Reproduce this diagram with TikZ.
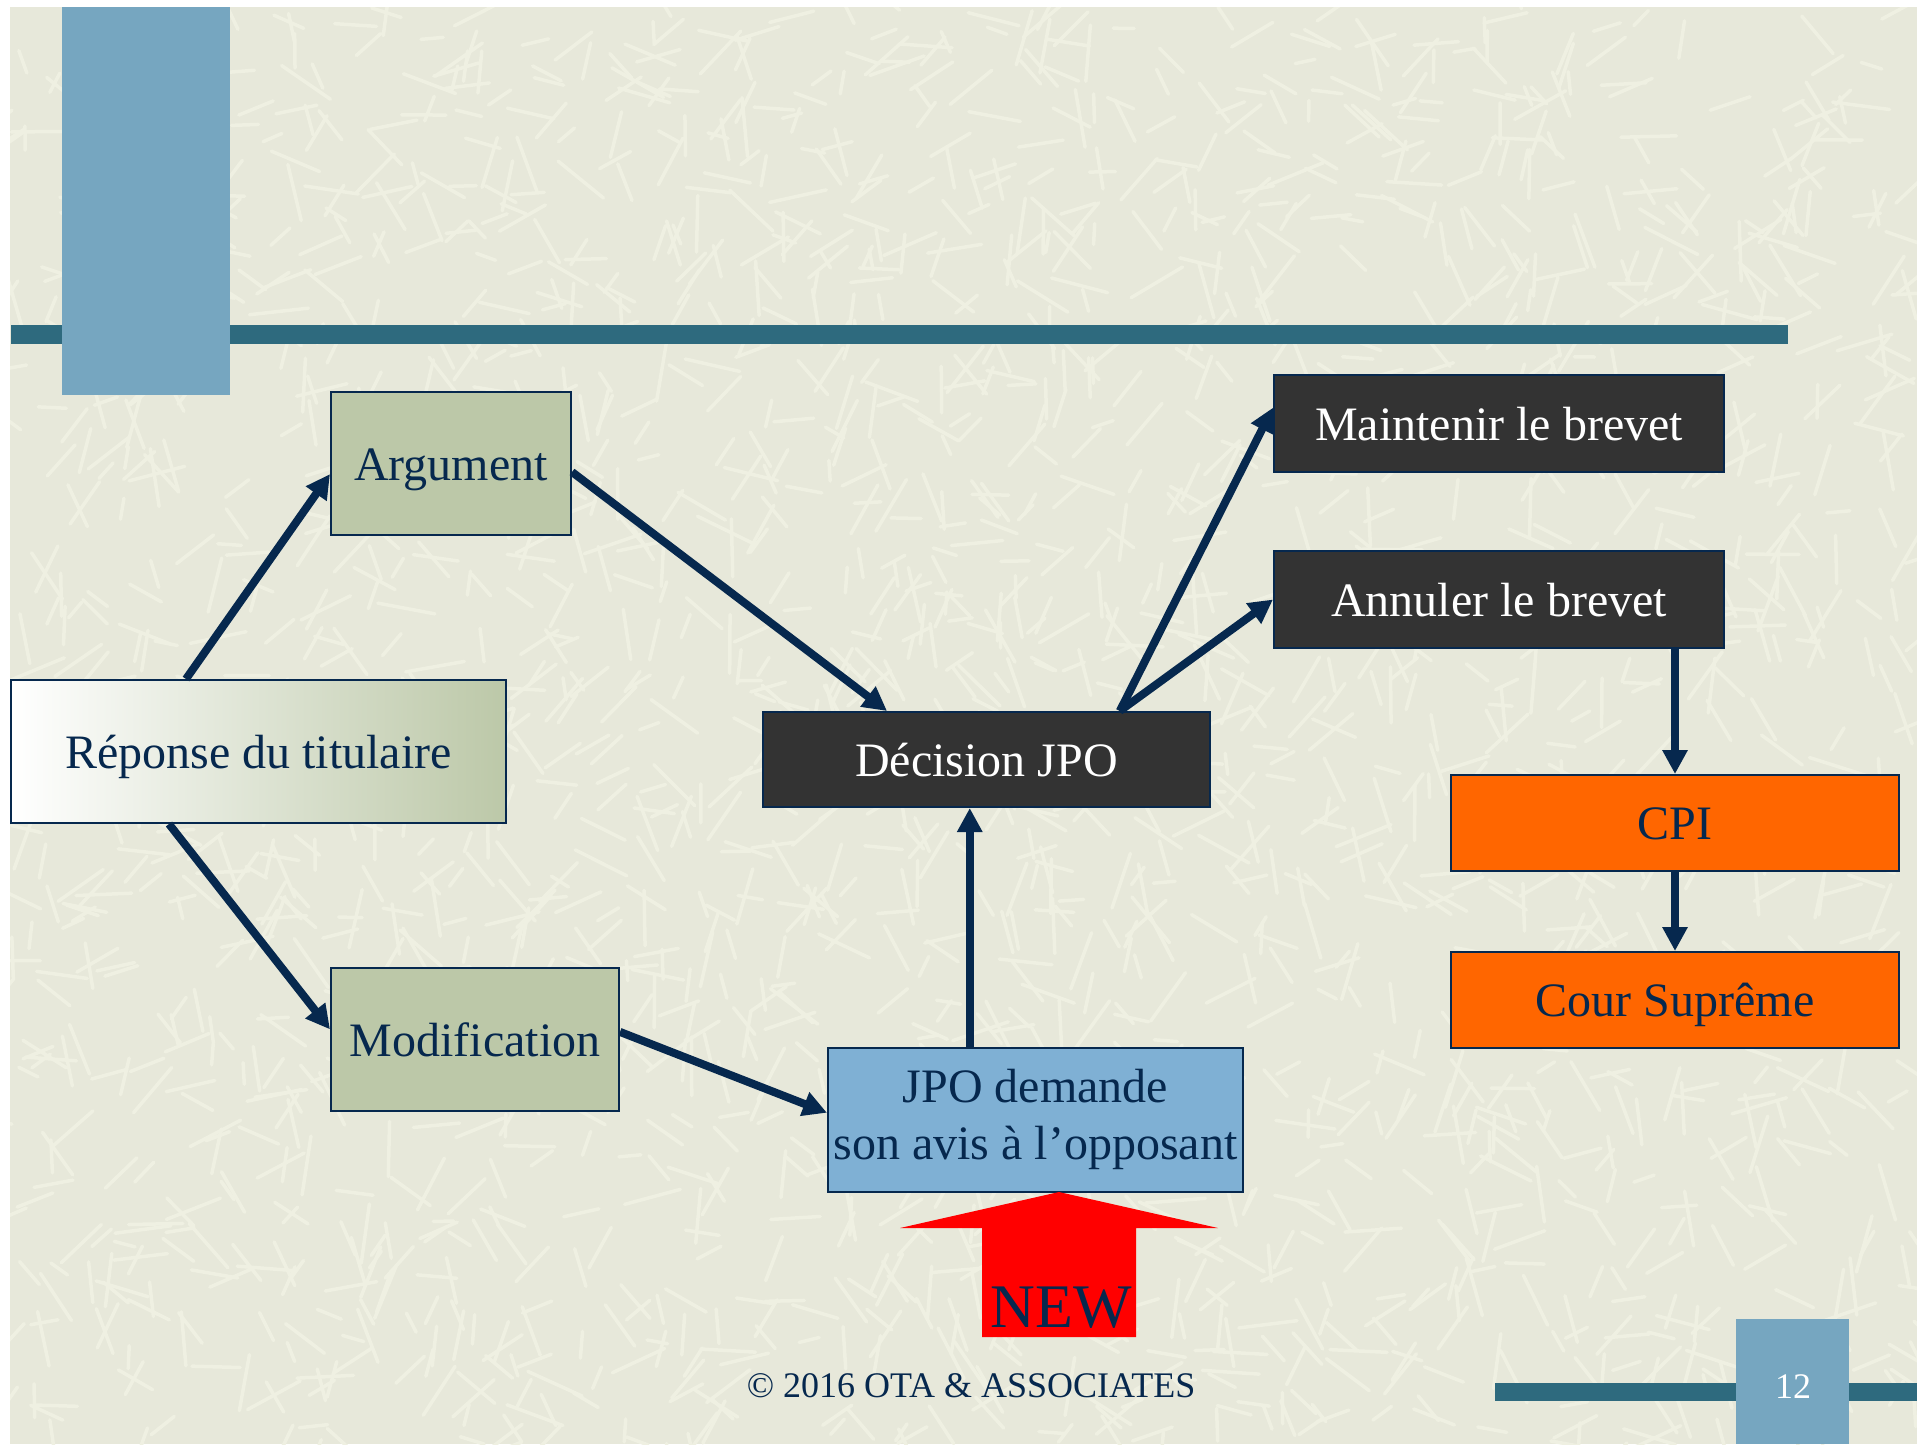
\documentclass[tikz,border=0pt]{standalone}
\usepackage{fontspec}
\setmainfont{Liberation Serif}
\usepackage{tikz}
\usetikzlibrary{arrows.meta,positioning}

\definecolor{navy}{RGB}{6,40,78}
\definecolor{bgbeige}{RGB}{231,232,218}
\definecolor{scratchcol}{RGB}{239,240,226}
\definecolor{barteal}{RGB}{46,106,126}
\definecolor{sqblue}{RGB}{118,166,192}
\definecolor{sage}{RGB}{188,200,168}
\definecolor{boxdark}{RGB}{51,51,51}
\definecolor{courtorange}{RGB}{255,102,0}
\definecolor{askblue}{RGB}{127,176,212}

\begin{document}
\begin{tikzpicture}[x=1pt,y=-1pt,
        box/.style={draw=navy, line width=2pt, inner sep=0pt, text=navy,
          align=center, font=\fontsize{48}{57}\selectfont,
          execute at begin node={\rule[-12pt]{0pt}{57pt}}},
        verdict/.style={box, fill=boxdark, text=white,
          minimum width=450pt, minimum height=97pt},
        court/.style={box, fill=courtorange,
          minimum width=448pt, minimum height=96pt},
        scratch/.style={line width=3.5pt, scratchcol, line cap=round},
        flow/.style={line width=8pt, navy, -{Triangle[length=24pt,width=24pt]}}]
          \useasboundingbox (0,0) rectangle (1917,1444);

          %draw slide background
          \fill[white] (0,0) rectangle (1917,1444);
          \fill[bgbeige] (10,7) rectangle (1917,1444);
          \begin{scope}
            \clip (10,7) rectangle (1917,1444);
            \pgfmathsetseed{7}
            \foreach \i in {1,...,2200}{
              \pgfmathsetmacro\sx{10+1907*rnd}
              \pgfmathsetmacro\sy{7+1437*rnd}
              \pgfmathsetmacro\sa{360*rnd}
              \pgfmathsetmacro\sl{20+40*rnd}
              \draw[scratch] (\sx,\sy) -- ++(\sa:\sl);
            }
          \end{scope}
          \fill[barteal] (11,325) rectangle (1788,344);
          \fill[sqblue] (62,7) rectangle (230,395);
          \fill[barteal] (1495,1383) rectangle (1917,1401);
          \fill[sqblue] (1736,1319) rectangle (1849,1444);

          %draw left column
          \node[box, left color=white, right color=sage, minimum width=495pt, minimum height=143pt]
                (rep) at (258.5,751.5) {Réponse du titulaire};
          \node[box, fill=sage, minimum width=240pt, minimum height=143pt]
                (arg) at (451,463.5) {Argument};
          \node[box, fill=sage, minimum width=288pt, minimum height=143pt]
                (modif) at (475,1039.5) {Modification};

          %draw JPO boxes
          \node[verdict, minimum width=447pt, minimum height=95pt] (dec) at (986.5,759.5) {Décision JPO};
          \node[box, fill=askblue, minimum width=415pt, minimum height=144pt]
                (ask) at (1035.5,1120) {JPO demande\\son avis à l’opposant};

          %draw outcomes
          \node[verdict] (maint) at (1499,423.5) {Maintenir le brevet};
          \node[verdict] (annul) at (1499,599.5) {Annuler le brevet};
          \node[court] (cpi) at (1675,823) {CPI};
          \node[court] (cour) at (1675,1000) {Cour Suprême};

          %arrows
          \draw[flow] (rep.135) -- (arg.185);
          \draw[flow] (rep.219) -- (modif.176);
          \draw[flow] (arg.356) -- (dec.154);
          \draw[flow] (modif.3) -- (ask.178);
          \draw[flow] (ask.132) -- (ask.132 |- dec.south);
          \draw[flow] (dec.20) -- (maint.176);
          \draw[flow] (dec.20) -- (annul.west);
          \draw[flow] (annul.south -| cpi.north) -- (cpi.north);
          \draw[flow] (cpi.south) -- (cour.north);

          %NEW marker
          \fill[red] (1059,1192) -- (1218,1228) -- (1136,1228) -- (1136,1337)
                -- (982,1337) -- (982,1228) -- (900,1228) -- cycle;
          \node[anchor=base, text=navy, inner sep=0pt, font=\fontsize{62}{62}\selectfont]
                (new) at (1061,1327) {NEW};

          %footer
          \node[anchor=base, text=navy, inner sep=0pt, font=\fontsize{36}{36}\selectfont]
                (copy) at (971,1397) {© 2016 OTA \& ASSOCIATES};
          \node[anchor=base, text=white, inner sep=0pt, font=\fontsize{36}{36}\selectfont]
                (page) at (1793,1398) {12};
\end{tikzpicture}
\end{document}
